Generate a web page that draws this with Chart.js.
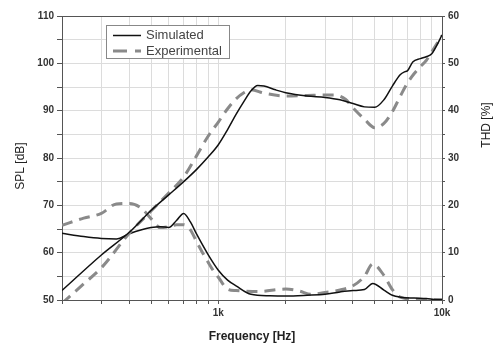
<!DOCTYPE html>
<html>
<head>
<meta charset="utf-8">
<script src="https://cdn.jsdelivr.net/npm/chart.js@4.4.1/dist/chart.umd.min.js"></script>
<style>
  html, body { margin: 0; padding: 0; background: #fff; }
  #wrap { width: 494px; height: 344px; }
</style>
</head>
<body>
<div id="wrap"><canvas id="chart" width="494" height="344"></canvas></div>
<script>
const FONT = '"Liberation Sans", Arial, sans-serif';

// SPL [dB], left axis
const splSimFreq = [200, 300, 400, 500, 600, 700, 800, 900, 1000, 1100, 1200, 1300, 1400, 1500, 1600, 1800, 2000, 2500, 3000, 3500, 4000, 4500, 5000, 5500, 6000, 6500, 6800, 7000, 7400, 8000, 8500, 9000, 9500, 10000];
const splSim = [52.0, 59.5, 64.3, 68.9, 72.2, 75.0, 77.6, 80.2, 82.8, 86.0, 89.2, 91.9, 94.2, 95.3, 95.2, 94.4, 93.8, 93.1, 92.8, 92.3, 91.5, 90.8, 90.7, 92.3, 95.2, 97.6, 98.2, 98.4, 100.3, 101.0, 101.4, 102.0, 103.9, 106.0];

const splExpFreq = [200, 250, 300, 400, 500, 600, 700, 800, 900, 1000, 1100, 1200, 1300, 1400, 1600, 2000, 2500, 3000, 3300, 3700, 4000, 4500, 5000, 5500, 6000, 6500, 7000, 7500, 8000, 8500, 9000, 9500, 10000];
const splExp = [49.3, 53.4, 56.8, 64.1, 68.8, 72.6, 76.0, 80.5, 84.6, 87.6, 90.4, 92.5, 93.8, 94.4, 93.7, 93.1, 93.2, 93.3, 93.3, 92.4, 90.6, 88.2, 86.4, 87.3, 89.8, 93.0, 95.8, 97.8, 99.3, 100.6, 102.4, 104.2, 105.8];

// THD [%], right axis
const thdSimFreq = [200, 250, 300, 350, 400, 450, 500, 550, 600, 650, 700, 750, 800, 900, 1000, 1100, 1200, 1400, 1700, 2000, 2500, 3000, 3500, 4000, 4500, 4900, 5500, 6000, 6500, 7500, 8500, 9500, 10000];
const thdSim = [14.1, 13.4, 13.0, 12.9, 14.0, 14.8, 15.3, 15.5, 15.3, 16.8, 18.3, 16.5, 13.9, 9.6, 6.3, 4.2, 3.0, 1.2, 0.9, 0.85, 1.0, 1.2, 1.7, 2.0, 2.2, 3.5, 2.1, 1.0, 0.6, 0.4, 0.3, 0.1, 0.1];

const thdExpFreq = [200, 250, 300, 350, 400, 450, 500, 550, 600, 650, 700, 750, 800, 850, 900, 950, 1000, 1100, 1200, 1500, 2000, 2300, 2600, 3000, 3500, 4000, 4500, 4900, 5500, 6000, 6500, 7500, 10000];
const thdExp = [15.8, 17.3, 18.3, 20.3, 20.4, 19.5, 17.2, 15.3, 15.5, 15.9, 15.9, 14.8, 12.3, 10.0, 8.0, 6.2, 4.8, 2.3, 2.0, 1.8, 2.3, 1.9, 1.2, 1.6, 2.1, 3.0, 5.0, 7.6, 5.2, 2.2, 0.6, 0.2, 0.0];

const xTicks = [200, 300, 400, 500, 600, 700, 800, 900, 1000, 2000, 3000, 4000, 5000, 6000, 7000, 8000, 9000, 10000];
const xTickLabels = ["", "", "", "", "", "", "", "", "1k", "", "", "", "", "", "", "", "", "10k"];

const legendLabels = ["Simulated", "Experimental"];

const SOLID = "#111111";
const DASHED = "#8a8a8a";
const DASH = [11, 7];

function pairs(xs, ys) {
  return xs.map((x, i) => ({ x: x, y: ys[i] }));
}

function lineSet(label, data, axis, dashed) {
  return {
    label: label,
    data: data,
    yAxisID: axis,
    borderColor: dashed ? DASHED : SOLID,
    borderWidth: dashed ? 3 : 1.5,
    borderDash: dashed ? DASH : [],
    pointRadius: 0,
    fill: false,
    cubicInterpolationMode: "monotone"
  };
}

const framePlugin = {
  id: "frame",
  afterDraw(chart) {
    const ctx = chart.ctx;
    const a = chart.chartArea;
    ctx.save();

    // top edge of the plot box
    ctx.strokeStyle = "#555";
    ctx.lineWidth = 1;
    ctx.beginPath();
    ctx.moveTo(a.left, a.top + 0.5);
    ctx.lineTo(a.right, a.top + 0.5);
    ctx.stroke();

    // legend box
    const bx = 106.5, by = 25.5, bw = 123, bh = 33;
    ctx.fillStyle = "#fff";
    ctx.fillRect(bx, by, bw, bh);
    ctx.strokeStyle = "#888";
    ctx.strokeRect(bx, by, bw, bh);

    ctx.font = "13px " + FONT;
    ctx.fillStyle = "#444";
    ctx.textBaseline = "middle";
    ctx.textAlign = "left";

    ctx.strokeStyle = SOLID;
    ctx.lineWidth = 1.5;
    ctx.beginPath();
    ctx.moveTo(113, 35.5);
    ctx.lineTo(141, 35.5);
    ctx.stroke();
    ctx.fillText(legendLabels[0], 146, 35.5);

    ctx.strokeStyle = DASHED;
    ctx.lineWidth = 3;
    ctx.setLineDash([14, 8]);
    ctx.beginPath();
    ctx.moveTo(113, 51);
    ctx.lineTo(141, 51);
    ctx.stroke();
    ctx.setLineDash([]);
    ctx.fillText(legendLabels[1], 146, 51);

    // axis titles, both reading bottom to top
    ctx.font = "12px " + FONT;
    ctx.fillStyle = "#222";
    ctx.textAlign = "center";
    ctx.translate(21, 166);
    ctx.rotate(-Math.PI / 2);
    ctx.fillText("SPL [dB]", 0, 0);
    ctx.setTransform(1, 0, 0, 1, 0, 0);
    ctx.translate(487, 125);
    ctx.rotate(-Math.PI / 2);
    ctx.fillText("THD [%]", 0, 0);
    ctx.restore();
  }
};

const tickFont = { family: FONT, size: 10, weight: "bold" };

new Chart(document.getElementById("chart"), {
  type: "line",
  data: {
    datasets: [
      lineSet("SPL simulated", pairs(splSimFreq, splSim), "y", false),
      lineSet("SPL experimental", pairs(splExpFreq, splExp), "y", true),
      lineSet("THD simulated", pairs(thdSimFreq, thdSim), "y1", false),
      lineSet("THD experimental", pairs(thdExpFreq, thdExp), "y1", true)
    ]
  },
  options: {
    animation: false,
    responsive: false,
    devicePixelRatio: 1,
    layout: { padding: { top: 16, left: 0, right: 0, bottom: 0 } },
    plugins: {
      legend: { display: false },
      tooltip: { enabled: false }
    },
    scales: {
      x: {
        type: "logarithmic",
        min: 200,
        max: 10000,
        afterBuildTicks: scale => {
          scale.ticks = xTicks.map(v => ({ value: v }));
        },
        afterFit: scale => { scale.height = 44; },
        ticks: {
          autoSkip: false,
          maxRotation: 0,
          padding: 3,
          color: "#333",
          font: tickFont,
          callback: (value) => {
            const i = xTicks.indexOf(value);
            return i >= 0 ? xTickLabels[i] : "";
          }
        },
        grid: { color: "#dcdcdc", tickColor: "#555", tickLength: 4 },
        border: { color: "#555", width: 1 },
        title: {
          display: true,
          text: "Frequency [Hz]",
          color: "#222",
          font: { family: FONT, size: 12, weight: "bold" },
          padding: { top: 0, bottom: 0 }
        }
      },
      y: {
        position: "left",
        min: 50,
        max: 110,
        afterFit: scale => { scale.width = 62; },
        ticks: {
          stepSize: 5,
          padding: 3,
          color: "#333",
          font: tickFont,
          callback: v => (v % 10 === 0 ? v : "")
        },
        grid: { color: "#dcdcdc", tickColor: "#555", tickLength: 5 },
        border: { color: "#555", width: 1 }
      },
      y1: {
        position: "right",
        min: 0,
        max: 60,
        afterFit: scale => { scale.width = 52; },
        ticks: {
          stepSize: 5,
          padding: 3,
          color: "#333",
          font: tickFont,
          callback: v => (v % 10 === 0 ? v : "")
        },
        grid: { drawOnChartArea: false, tickColor: "#555", tickLength: 3 },
        border: { color: "#555", width: 1 }
      }
    }
  },
  plugins: [framePlugin]
});
</script>
</body>
</html>
